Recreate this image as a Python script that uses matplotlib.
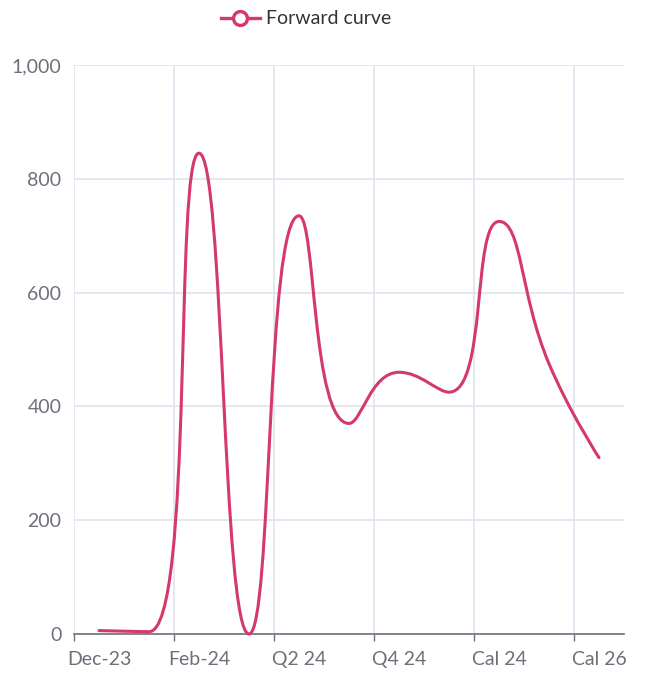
import numpy as np
import matplotlib
matplotlib.use("Agg")
import matplotlib.pyplot as plt
from matplotlib.path import Path
from matplotlib.patches import PathPatch
from matplotlib.lines import Line2D
from matplotlib.ticker import FixedLocator, StrMethodFormatter

# Forward curve by contract
contracts = ['Dec-23', 'Jan-24', 'Feb-24', 'Mar-24', 'Q2 24', 'Q3 24',
             'Q4 24', 'Q1 25', 'Cal 24', 'Cal 25', 'Cal 26']
forward = [6, 4, 845, 0, 735, 370, 460, 425, 725, 475, 310]
y_ticks = [0, 200, 400, 600, 800, 1000]

LINE_COLOR = '#d4386c'
AXIS_COLOR = '#6e7079'
GRID_COLOR = '#e0e6f1'

plt.rcParams['font.family'] = ['Lato', 'DejaVu Sans']


def smooth_path(ax, xs, ys, smooth=0.5):
    """Bezier path through the points, with control points clamped so the
    curve never overshoots its neighbours (same idea as echarts' smooth line)."""
    pts = ax.transData.transform(np.column_stack([xs, ys]))
    n = len(pts)
    verts = [tuple(pts[0])]
    codes = [Path.MOVETO]
    cp0 = pts[0].copy()
    for i in range(1, n):
        x, y = pts[i]
        px, py = pts[i - 1]
        if i == n - 1:
            cp1 = np.array([x, y])
            next_cp0 = None
        else:
            nx, ny = pts[i + 1]
            vx, vy = nx - px, ny - py
            len_prev = np.hypot(x - px, y - py)
            len_next = np.hypot(nx - x, ny - y)
            ratio = len_next / (len_next + len_prev)
            ncx = x + vx * smooth * ratio
            ncy = y + vy * smooth * ratio
            ncx = max(min(ncx, max(nx, x)), min(nx, x))
            ncy = max(min(ncy, max(ny, y)), min(ny, y))
            vx, vy = ncx - x, ncy - y
            c1x = x - vx * len_prev / len_next
            c1y = y - vy * len_prev / len_next
            c1x = max(min(c1x, max(px, x)), min(px, x))
            c1y = max(min(c1y, max(py, y)), min(py, y))
            vx, vy = x - c1x, y - c1y
            next_cp0 = np.array([x + vx * len_next / len_prev,
                                 y + vy * len_next / len_prev])
            cp1 = np.array([c1x, c1y])
        verts += [tuple(cp0), tuple(cp1), (x, y)]
        codes += [Path.CURVE4] * 3
        cp0 = next_cp0
    inv = ax.transData.inverted()
    return Path(inv.transform(np.array(verts)), codes)


fig = plt.figure(figsize=(6.5, 6.83), dpi=100)
ax = fig.add_axes([74 / 650, 1 - 634 / 683, 550 / 650, 569 / 683])

n = len(contracts)
ax.set_xlim(-0.5, n - 0.5)
ax.set_ylim(0, 1000)

# category boundaries carry ticks and grid lines, labels sit in the cells
bounds = np.arange(-0.5, n - 0.5, 2)
ax.xaxis.set_major_locator(FixedLocator(bounds))
ax.xaxis.set_minor_locator(FixedLocator(np.arange(0, n, 2)))
ax.set_xticklabels([''] * len(bounds))
ax.set_xticklabels(contracts[::2], minor=True)
ax.tick_params(axis='x', which='major', length=5, width=1, color=AXIS_COLOR)
ax.tick_params(axis='x', which='minor', length=0, pad=12,
               labelsize=14, labelcolor=AXIS_COLOR)

ax.set_yticks(y_ticks)
ax.yaxis.set_major_formatter(StrMethodFormatter('{x:,.0f}'))
ax.tick_params(axis='y', length=0, pad=9, labelsize=14, labelcolor=AXIS_COLOR)

ax.grid(True, which='major', color=GRID_COLOR, linewidth=1.3)
ax.set_axisbelow(True)
for side in ['left', 'right', 'top']:
    ax.spines[side].set_visible(False)
ax.spines['bottom'].set_color(AXIS_COLOR)
ax.spines['bottom'].set_linewidth(1.2)
ax.spines['bottom'].set_zorder(3)

ax.add_patch(PathPatch(smooth_path(ax, np.arange(n), forward),
                       fill=False, edgecolor=LINE_COLOR, linewidth=2.2,
                       capstyle='round', joinstyle='round', zorder=4,
                       clip_on=False))

handle = Line2D([], [], color=LINE_COLOR, linewidth=2.4, marker='o',
                markersize=10, markerfacecolor='white',
                markeredgecolor=LINE_COLOR, markeredgewidth=2.4)
fig.legend(handles=[handle], labels=['Forward curve'], loc='center',
           bbox_to_anchor=(306 / 650, 1 - 19 / 683), frameon=False,
           fontsize=14, handlelength=2.0, handletextpad=0.3,
           labelcolor='#333333')

fig.savefig('out.png', dpi=100)
